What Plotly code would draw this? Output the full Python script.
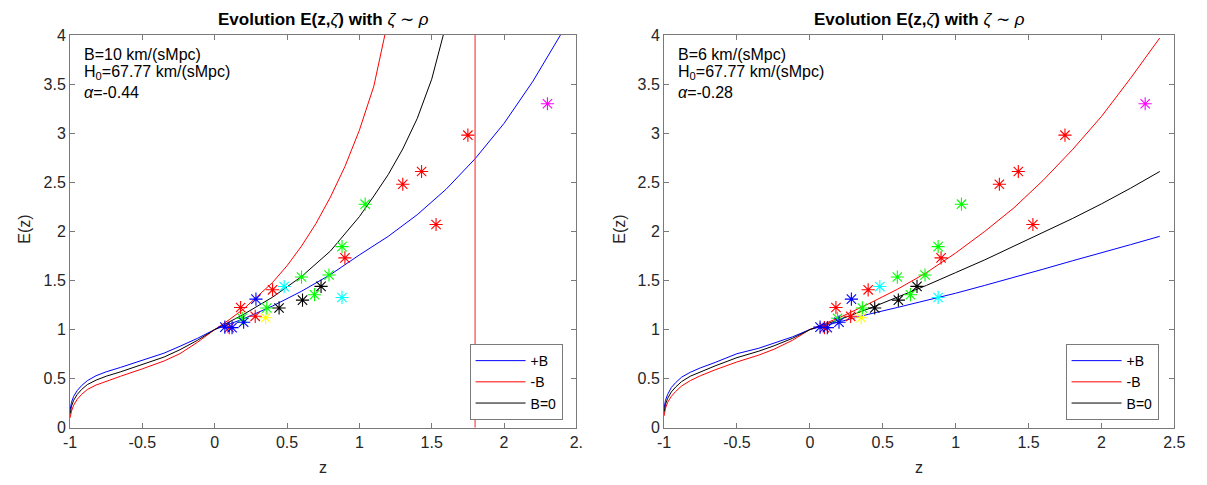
import plotly.graph_objects as go

# ---------------- observational data (same on both panels) ----------------
red_z = [0.10, 0.179, 0.28, 0.40, 0.90, 1.30, 1.43, 1.53, 1.75]
red_E = [1.02, 1.225, 1.135, 1.405, 1.73, 2.48, 2.61, 2.07, 2.98]
green_z = [0.19, 0.36, 0.60, 0.69, 0.79, 0.88, 1.04]
green_E = [1.115, 1.22, 1.535, 1.355, 1.556, 1.845, 2.277]
blue_z = [0.07, 0.12, 0.20, 0.285]
blue_E = [1.025, 1.02, 1.075, 1.31]
cyan_z = [0.48, 0.88]
cyan_E = [1.438, 1.327]
black_z = [0.445, 0.607, 0.735]
black_E = [1.22, 1.30, 1.44]
yellow_z = [0.352]
yellow_E = [1.12]
magenta_z = [2.30]
magenta_E = [3.30]

# ---------------- model curves, left panel (B=10) ----------------
L_low_z = [-1, -0.99, -0.975, -0.95, -0.92, -0.88, -0.82, -0.75, -0.65, -0.5, -0.35, -0.24, -0.12, 0]
L_blue_low = [0.18, 0.26, 0.32, 0.38, 0.43, 0.48, 0.53, 0.57, 0.615, 0.685, 0.76, 0.83, 0.91, 1.0]
L_black_low = [0.14, 0.22, 0.28, 0.34, 0.39, 0.44, 0.485, 0.525, 0.57, 0.645, 0.72, 0.795, 0.89, 1.0]
L_red_low = [0.10, 0.17, 0.23, 0.29, 0.34, 0.39, 0.435, 0.475, 0.525, 0.60, 0.68, 0.755, 0.87, 1.0]

L_blue_z = L_low_z + [0.2, 0.4, 0.6, 0.8, 1.0, 1.2, 1.4, 1.6, 1.8, 2.0, 2.2, 2.39, 2.45]
L_blue_E = L_blue_low + [1.11, 1.24, 1.39, 1.56, 1.76, 1.95, 2.17, 2.43, 2.74, 3.10, 3.53, 4.0, 4.17]
L_red_z = L_low_z + [0.1, 0.2, 0.3, 0.4, 0.5, 0.6, 0.7, 0.8, 0.9, 1.0, 1.1, 1.18, 1.22]
L_red_E = L_red_low + [1.10, 1.21, 1.34, 1.48, 1.65, 1.85, 2.08, 2.35, 2.66, 3.03, 3.48, 4.0, 4.3]
L_black_z = L_low_z + [0.1, 0.2, 0.4, 0.6, 0.8, 1.0, 1.1, 1.2, 1.3, 1.4, 1.5, 1.58, 1.62]
L_black_E = L_black_low + [1.075, 1.155, 1.33, 1.54, 1.80, 2.15, 2.36, 2.58, 2.84, 3.15, 3.55, 4.0, 4.3]
L_pole_z = [1.8, 1.8]
L_pole_E = [0, 4]

# ---------------- model curves, right panel (B=6) ----------------
R_z = [-1, -0.99, -0.975, -0.95, -0.92, -0.88, -0.82, -0.75, -0.65, -0.5, -0.35, -0.245, -0.12, 0,
       0.2, 0.4, 0.6, 0.8, 1.0, 1.2, 1.4, 1.6, 1.8, 2.0, 2.2, 2.4]
R_blue_E = [0.20, 0.28, 0.34, 0.41, 0.46, 0.515, 0.565, 0.61, 0.665, 0.754, 0.81, 0.86, 0.925, 1.0,
            1.08, 1.155, 1.225, 1.295, 1.37, 1.45, 1.53, 1.615, 1.70, 1.78, 1.865, 1.95]
R_black_E = [0.16, 0.24, 0.30, 0.365, 0.415, 0.47, 0.525, 0.57, 0.63, 0.714, 0.78, 0.835, 0.91, 1.0,
             1.10, 1.21, 1.33, 1.45, 1.58, 1.71, 1.85, 1.99, 2.13, 2.28, 2.44, 2.61]
R_red_E = [0.12, 0.20, 0.26, 0.32, 0.37, 0.425, 0.48, 0.53, 0.59, 0.67, 0.74, 0.80, 0.89, 1.0,
           1.12, 1.26, 1.41, 1.58, 1.78, 2.00, 2.24, 2.52, 2.83, 3.17, 3.56, 3.97]

x_tickvals = [-1, -0.5, 0, 0.5, 1, 1.5, 2, 2.5]
x_ticktext_left = ["-1", "-0.5", "0", "0.5", "1", "1.5", "2", "2."]
x_ticktext_right = ["-1", "-0.5", "0", "0.5", "1", "1.5", "2", "2.5"]
y_tickvals = [0, 0.5, 1, 1.5, 2, 2.5, 3, 3.5, 4]
y_ticktext = ["0", "0.5", "1", "1.5", "2", "2.5", "3", "3.5", "4"]

left_info = ["B=10 km/(sMpc)", "H<sub>0</sub>=67.77 km/(sMpc)", "<i>α</i>=-0.44"]
right_info = ["B=6 km/(sMpc)", "H<sub>0</sub>=67.77 km/(sMpc)", "<i>α</i>=-0.28"]

FONT = "Liberation Sans, Arial, Helvetica, sans-serif"
W, H = 1207, 485
AX = "#7a7a7a"
TXT = "#262626"

fig = go.Figure()

obs = [(red_z, red_E, "#ff0000"), (green_z, green_E, "#00ff00"), (blue_z, blue_E, "#0000ff"),
       (cyan_z, cyan_E, "#00ffff"), (black_z, black_E, "#000000"),
       (yellow_z, yellow_E, "#ffff00"), (magenta_z, magenta_E, "#ff00ff")]


def add_panel(xa, ya, legend, curves, extra=None):
    for zz, ee, name, col in curves:
        fig.add_trace(go.Scatter(x=zz, y=ee, mode="lines", name=name,
                                 line=dict(color=col, width=1),
                                 xaxis=xa, yaxis=ya, legend=legend, showlegend=True))
    if extra is not None:
        fig.add_trace(go.Scatter(x=extra[0], y=extra[1], mode="lines",
                                 line=dict(color="rgba(255,40,40,0.65)", width=1.6),
                                 xaxis=xa, yaxis=ya, showlegend=False))
    for zz, ee, col in obs:
        fig.add_trace(go.Scatter(x=zz, y=ee, mode="markers",
                                 marker=dict(symbol="asterisk-open", size=11, color=col,
                                             line=dict(color=col, width=1.1)),
                                 xaxis=xa, yaxis=ya, showlegend=False, cliponaxis=False))


add_panel("x", "y", "legend",
          [(L_blue_z, L_blue_E, "+B", "#0000ff"), (L_red_z, L_red_E, "-B", "#ff0000"),
           (L_black_z, L_black_E, "B=0", "#000000")],
          extra=(L_pole_z, L_pole_E))
add_panel("x2", "y2", "legend2",
          [(R_z, R_blue_E, "+B", "#0000ff"), (R_z, R_red_E, "-B", "#ff0000"),
           (R_z, R_black_E, "B=0", "#000000")])

y0, y1 = 1 - 435 / H, 1 - 28 / H
dom_l = [64 / W, 578 / W]
dom_r = [667 / W, 1185 / W]

common_x = dict(range=[-1, 2.5], tickvals=x_tickvals, showline=True, mirror="ticks",
                linecolor=AX, linewidth=1, ticks="inside", ticklen=5, tickcolor=AX,
                showgrid=False, zeroline=False, tickfont=dict(family=FONT, size=16, color=TXT))
common_y = dict(range=[0, 4], tickvals=y_tickvals, ticktext=y_ticktext, showline=True,
                mirror="ticks", linecolor=AX, linewidth=1, ticks="inside", ticklen=5,
                tickcolor=AX, showgrid=False, zeroline=False,
                tickfont=dict(family=FONT, size=16, color=TXT))

legend_style = dict(bgcolor="white", bordercolor=AX, borderwidth=1,
                    font=dict(family=FONT, size=14, color="#000000"),
                    xanchor="right", yanchor="bottom", tracegroupgap=0, itemwidth=50)

fig.update_layout(
    width=W, height=H, margin=dict(l=0, r=0, t=0, b=0),
    paper_bgcolor="white", plot_bgcolor="white",
    xaxis=dict(domain=dom_l, anchor="y", ticktext=x_ticktext_left, **common_x),
    yaxis=dict(domain=[y0, y1], anchor="x", **common_y),
    xaxis2=dict(domain=dom_r, anchor="y2", ticktext=x_ticktext_right, **common_x),
    yaxis2=dict(domain=[y0, y1], anchor="x2", **common_y),
    legend=dict(x=564 / W, y=1 - 427 / H, **legend_style),
    legend2=dict(x=1169 / W, y=1 - 427 / H, **legend_style),
)

ann = []
for cx in [(64 + 578) / 2, (667 + 1185) / 2]:
    ann.append(dict(x=cx / W, y=1 - 12 / H, xref="paper", yref="paper", showarrow=False,
                    text="<b>Evolution E(z,</b><i>ζ</i><b>) with </b><i>ζ</i> ∼ <i>ρ</i>",
                    font=dict(family=FONT, size=17, color="#000000"),
                    xanchor="center", yanchor="middle"))
    ann.append(dict(x=cx / W, y=1 - 476 / H, xref="paper", yref="paper", showarrow=False,
                    text="z", font=dict(family=FONT, size=16, color=TXT),
                    xanchor="center", yanchor="middle"))
for lx in [18, 622]:
    ann.append(dict(x=lx / W, y=1 - 229 / H, xref="paper", yref="paper", showarrow=False,
                    text="E(z)", textangle=-90, font=dict(family=FONT, size=16, color=TXT),
                    xanchor="center", yanchor="middle"))
for px, info in [(76, left_info), (679, right_info)]:
    for yy, t in zip([48, 67, 88], info):
        ann.append(dict(x=px / W, y=1 - yy / H, xref="paper", yref="paper", showarrow=False,
                        text=t, font=dict(family=FONT, size=16, color="#000000"),
                        xanchor="left", yanchor="middle"))
fig.update_layout(annotations=ann)

fig.write_html("out.html")
